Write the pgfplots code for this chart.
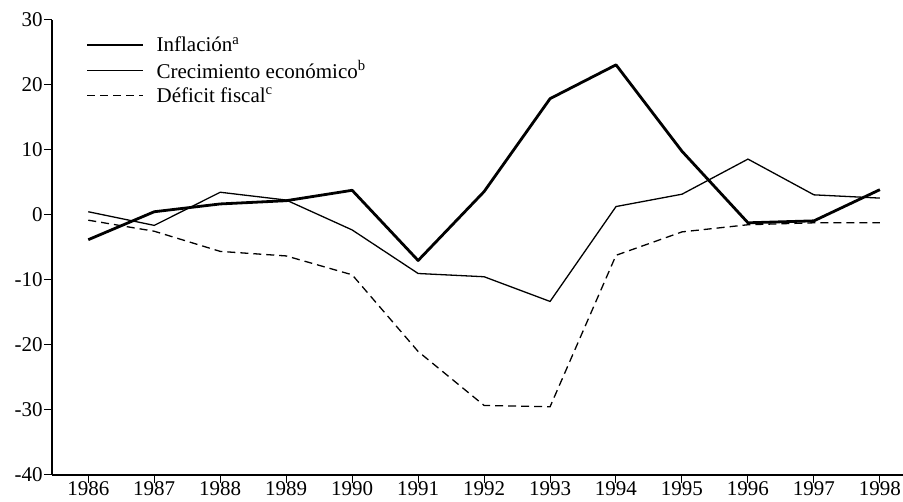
\documentclass[border=0pt]{standalone}
\usepackage{fontspec}
\setmainfont{Liberation Serif}
\usepackage{pgfplots}
\pgfplotsset{compat=1.18}
\begin{document}
\begin{tikzpicture}
\begin{axis}[
  scale only axis, width=851pt, height=455pt,
  xmin=1985.45, xmax=1998.35, ymin=-40, ymax=30,
  axis lines*=left,
  axis line style={line width=1.2pt},
  tick style={line width=1pt, black},
  tick align=outside, major tick length=8pt,
  xtick={1986,...,1998}, ytick={-40,-30,...,30},
  x tick label style={/pgf/number format/1000 sep={}},
  /pgf/number format/assume math mode=true,
  tick label style={font=\fontsize{21}{24}\selectfont},
  xticklabel style={yshift=5pt},
  yticklabel style={xshift=2pt},
  legend style={draw=none, fill=none, at={(0.036,0.972)}, anchor=north west,
    font=\fontsize{21}{24}\selectfont, row sep=3.5pt,
    /tikz/every odd column/.append style={column sep=10pt}},
  legend cell align=left,
  legend image code/.code={\draw[#1] (0pt,0pt) -- (56pt,0pt);},
]
\addplot[black, line width=2.8pt, line join=round] coordinates {
(1986,-3.8) (1987,0.5) (1988,1.7) (1989,2.2) (1990,3.8) (1991,-7.0) (1992,3.6)
(1993,17.9) (1994,23.1) (1995,9.8) (1996,-1.2) (1997,-0.9) (1998,3.9)};
\addlegendentry{Inflación\textsuperscript{a}}
\addplot[black, line width=1.3pt] coordinates {
(1986,0.5) (1987,-1.6) (1988,3.5) (1989,2.3) (1990,-2.3) (1991,-9.0) (1992,-9.5)
(1993,-13.3) (1994,1.3) (1995,3.2) (1996,8.6) (1997,3.1) (1998,2.6)};
\addlegendentry{Crecimiento económico\textsuperscript{b}}
\addplot[black, line width=1.3pt, dash pattern=on 8pt off 5pt] coordinates {
(1986,-0.8) (1987,-2.5) (1988,-5.6) (1989,-6.3) (1990,-9.2) (1991,-21.0) (1992,-29.3)
(1993,-29.5) (1994,-6.2) (1995,-2.6) (1996,-1.5) (1997,-1.2) (1998,-1.2)};
\addlegendentry{Déficit fiscal\textsuperscript{c}}
\end{axis}
\pgfresetboundingbox
\path[use as bounding box] (current axis.south west) ++(-52pt,-27pt) rectangle ++(903pt,502pt);
\end{tikzpicture}
\end{document}
